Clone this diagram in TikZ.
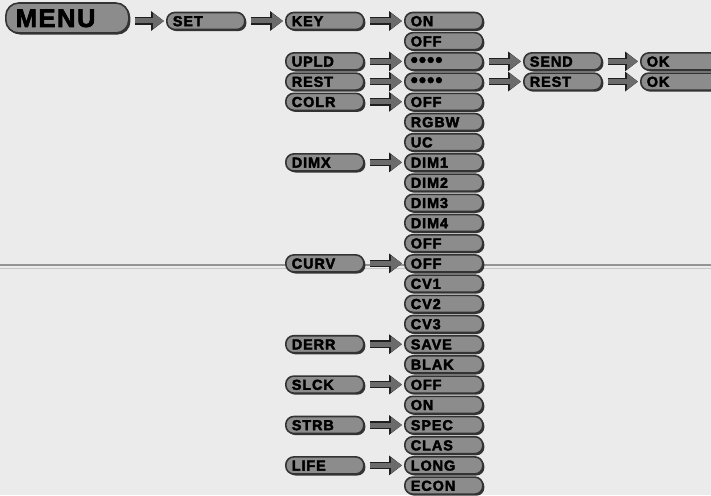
\documentclass[tikz,border=0pt]{standalone}
\usepackage{fontspec}
\newfontfamily\pillfont[LetterSpace=6,FakeBold=2.5]{Liberation Sans}
\usetikzlibrary{arrows.meta,shadows}

\tikzset{
  pill/.style={anchor=west, rounded corners=8pt, draw=black!80, line width=1.6pt, fill=black!45,
    drop shadow={shadow xshift=1.6pt, shadow yshift=-1.6pt, fill=black!80, opacity=1},
    text width=66pt, align=left, inner xsep=6pt, inner ysep=3.3pt, text height=10.4pt, text depth=0pt,
    font=\pillfont\bfseries\fontsize{14.5}{14.5}\selectfont},
  bigpill/.style={pill, rounded corners=13pt, text width=103pt, inner xsep=10pt, inner ysep=6pt,
    text height=18pt, font=\pillfont\bfseries\fontsize{25.5}{25.5}\selectfont},
  dots/.style={font=\pillfont\bfseries\fontsize{20}{14}\selectfont},
  flow/.style={draw=black!58, line width=5pt, -{Triangle[length=11pt,width=15pt]},
    shorten <=5pt, shorten >=2pt,
    preaction={draw=black!88, line width=7.5pt, -{Triangle[length=13pt,width=19pt]}}}
}

\begin{document}
\begin{tikzpicture}[x=1pt,y=-1pt]
\useasboundingbox (0,0) rectangle (711,495);
\clip (0,0) rectangle (711,495);
\fill [black!8] (0,0) rectangle (711,495);
%scan line across the page
\draw [black!42, line width=2.5pt] (0,265) -- (711,265);
\draw [black!22, line width=1pt] (0,268.5) -- (711,268.5);

% Top row
\node (menu) at (5,18) [bigpill] {MENU};
\node (set) at (166,21) [pill] {SET};
\node (key) at (285,21) [pill] {KEY};

% Left column
\node (upld) at (285,61.4) [pill] {UPLD};
\node (rest) at (285,81.6) [pill] {REST};
\node (colr) at (285,101.8) [pill] {COLR};
\node (dimx) at (285,162.4) [pill] {DIMX};
\node (curv) at (285,263.4) [pill] {CURV};
\node (derr) at (285,344.2) [pill] {DERR};
\node (slck) at (285,384.6) [pill] {SLCK};
\node (strb) at (285,425) [pill] {STRB};
\node (life) at (285,465.4) [pill] {LIFE};

% Right column
\node (on) at (404,21) [pill] {ON};
\node (keyoff) at (404,41.2) [pill] {OFF};
\node (upldpw) at (404,61.4) [pill, dots] {••••};
\node (restpw) at (404,81.6) [pill, dots] {••••};
\node (colroff) at (404,101.8) [pill] {OFF};
\node (rgbw) at (404,122) [pill] {RGBW};
\node (uc) at (404,142.2) [pill] {UC};
\node (dim1) at (404,162.4) [pill] {DIM1};
\node (dim2) at (404,182.6) [pill] {DIM2};
\node (dim3) at (404,202.8) [pill] {DIM3};
\node (dim4) at (404,223) [pill] {DIM4};
\node (dimoff) at (404,243.2) [pill] {OFF};
\node (curvoff) at (404,263.4) [pill] {OFF};
\node (cv1) at (404,283.6) [pill] {CV1};
\node (cv2) at (404,303.8) [pill] {CV2};
\node (cv3) at (404,324) [pill] {CV3};
\node (save) at (404,344.2) [pill] {SAVE};
\node (blak) at (404,364.4) [pill] {BLAK};
\node (slckoff) at (404,384.6) [pill] {OFF};
\node (slckon) at (404,404.8) [pill] {ON};
\node (spec) at (404,425) [pill] {SPEC};
\node (clas) at (404,445.2) [pill] {CLAS};
\node (long) at (404,465.4) [pill] {LONG};
\node (econ) at (404,485.6) [pill] {ECON};

% Upload / reset branch
\node (send) at (523,61.4) [pill] {SEND};
\node (restb) at (523,81.6) [pill] {REST};
\node (oka) at (640,61.4) [pill] {OK};
\node (okb) at (640,81.6) [pill] {OK};

% Arrows
\draw [flow] (menu.east |- set.west) -- (set.west);
\draw [flow] (set.east) -- (key.west);
\draw [flow] (key.east) -- (on.west);
\draw [flow] (upld.east) -- (upldpw.west);
\draw [flow] (rest.east) -- (restpw.west);
\draw [flow] (upldpw.east) -- (send.west);
\draw [flow] (restpw.east) -- (restb.west);
\draw [flow] (send.east) -- (oka.west);
\draw [flow] (restb.east) -- (okb.west);
\draw [flow] (colr.east) -- (colroff.west);
\draw [flow] (dimx.east) -- (dim1.west);
\draw [flow] (curv.east) -- (curvoff.west);
\draw [flow] (derr.east) -- (save.west);
\draw [flow] (slck.east) -- (slckoff.west);
\draw [flow] (strb.east) -- (spec.west);
\draw [flow] (life.east) -- (long.west);

\end{tikzpicture}
\end{document}
